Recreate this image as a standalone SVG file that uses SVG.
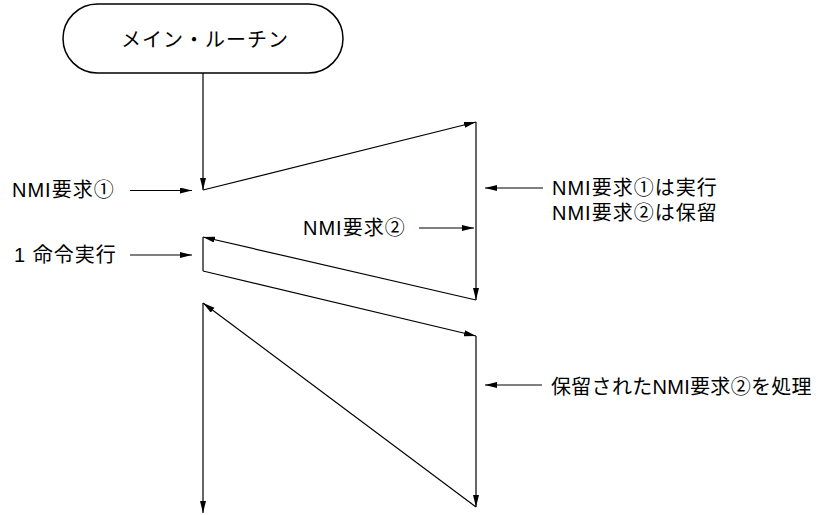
<svg xmlns="http://www.w3.org/2000/svg" width="827" height="515" viewBox="0 0 827 515">
<style>
text{font-family:"Liberation Sans","Noto Sans CJK JP",sans-serif;font-size:20px;letter-spacing:1px;fill:#000}
.ln{stroke:#000;stroke-width:1.2;fill:none}
</style>
<defs>
<marker id="ah" markerUnits="userSpaceOnUse" markerWidth="13" markerHeight="7" refX="12" refY="3" orient="auto">
<path d="M0,0 L12,3 L0,6 z" fill="#000"/>
</marker>
</defs>
<rect width="827" height="515" fill="#fff"/>
<g id="start">
<rect x="63" y="4" width="280" height="69" rx="34.5" ry="34.5" fill="#fff" stroke="#000" stroke-width="1.5"/>
<text x="205" y="47" text-anchor="middle">メイン・ルーチン</text>
</g>
<g id="connectors">
<line class="ln" x1="203" y1="73" x2="203" y2="190" marker-end="url(#ah)"/>
<line class="ln" x1="203" y1="190" x2="476" y2="122" marker-end="url(#ah)"/>
<line class="ln" x1="476" y1="122" x2="476" y2="300" marker-end="url(#ah)"/>
<line class="ln" x1="476" y1="300" x2="203" y2="237" marker-end="url(#ah)"/>
<line class="ln" x1="203" y1="237" x2="203" y2="271"/>
<line class="ln" x1="203" y1="271" x2="476" y2="336" marker-end="url(#ah)"/>
<line class="ln" x1="476" y1="336" x2="476" y2="507" marker-end="url(#ah)"/>
<line class="ln" x1="476" y1="507" x2="203" y2="303" marker-end="url(#ah)"/>
<line class="ln" x1="203" y1="303" x2="203" y2="513" marker-end="url(#ah)"/>
<line class="ln" x1="130" y1="190.5" x2="192" y2="190.5" marker-end="url(#ah)"/>
<line class="ln" x1="130" y1="255" x2="192" y2="255" marker-end="url(#ah)"/>
<line class="ln" x1="419" y1="228" x2="474" y2="228" marker-end="url(#ah)"/>
<line class="ln" x1="543" y1="188" x2="485" y2="188" marker-end="url(#ah)"/>
<line class="ln" x1="542" y1="385" x2="485" y2="385" marker-end="url(#ah)"/>
</g>
<g id="label-nmi1"><text x="12" y="197">NMI要求①</text></g>
<g id="label-exec"><text x="14" y="262">1 命令実行</text></g>
<g id="label-nmi2"><text x="303" y="235">NMI要求②</text></g>
<g id="label-status">
<text x="552" y="195">NMI要求①は実行</text>
<text x="552" y="220">NMI要求②は保留</text>
</g>
<g id="label-process"><text x="551" y="394" style="letter-spacing:0.3px">保留されたNMI要求②を処理</text></g>
</svg>
